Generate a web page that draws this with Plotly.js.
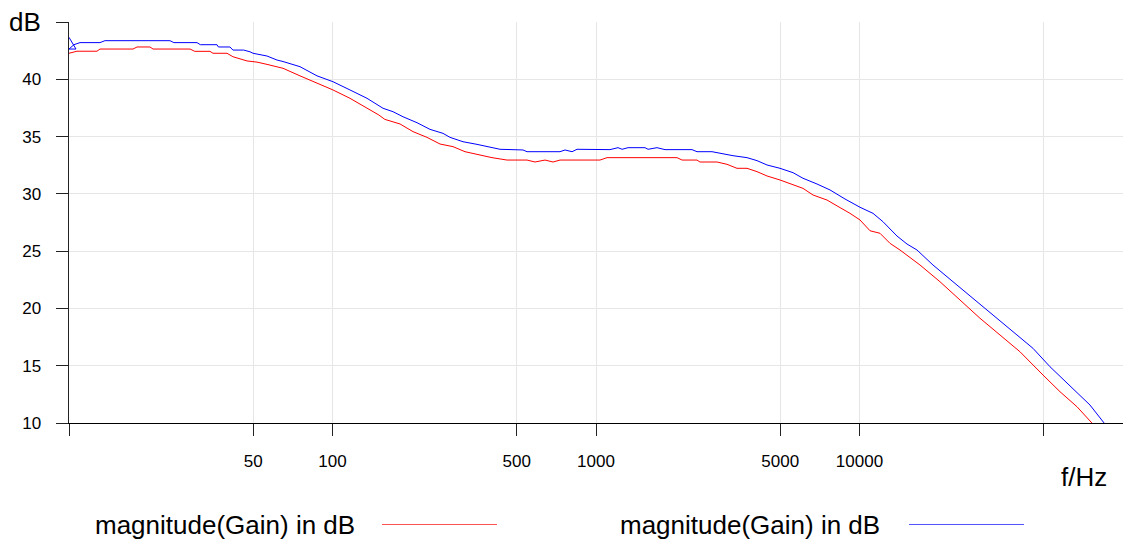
<!DOCTYPE html>
<html>
<head>
<meta charset="utf-8">
<script src="https://cdn.plot.ly/plotly-3.0.1.min.js"></script>
<style>html,body{margin:0;padding:0;background:#fff;}#chart{width:1125px;height:540px;}</style>
</head>
<body>
<div id="chart"></div>
<script>
// Frequencies (Hz) and magnitudes (dB)
const redFreq = [10, 10.72, 12.77, 13.11, 17.5, 18.12, 20.29, 20.84, 28.8, 30.0, 34.28, 35.2, 39.78, 41.9, 47.37, 51.7, 56.43, 61.57, 64.89, 75.27, 87.34, 100.4, 116.5, 135.2, 150, 158, 180.4, 202.1, 228.4, 255.9, 286.7, 318.3, 363, 403, 459.5, 547.3, 586.8, 640.5, 686.8, 730.2, 1035.6, 1101, 2030, 2121, 2417, 2481, 2880, 3142, 3428, 3742, 4083, 4457, 4992, 5593, 6104, 6662, 7529, 8436, 9204, 10044, 10961, 11960, 13056, 14245, 16967, 20205, 24064, 28665, 34136, 40645, 49701, 57674, 66892, 76923];
const redGain = [42.27, 42.45, 42.45, 42.64, 42.64, 42.82, 42.82, 42.64, 42.64, 42.44, 42.44, 42.27, 42.27, 41.97, 41.6, 41.5, 41.3, 41.1, 40.96, 40.3, 39.65, 39.07, 38.34, 37.5, 36.88, 36.5, 36.1, 35.43, 34.93, 34.35, 34.12, 33.68, 33.39, 33.16, 32.95, 32.95, 32.78, 32.95, 32.78, 32.95, 32.95, 33.16, 33.16, 32.95, 32.95, 32.78, 32.78, 32.58, 32.23, 32.23, 31.94, 31.56, 31.21, 30.77, 30.48, 29.9, 29.46, 28.8, 28.3, 27.72, 26.78, 26.56, 25.68, 25.1, 23.79, 22.33, 20.74, 19.14, 17.68, 16.22, 14.19, 12.73, 11.42, 9.9];

const blueFreq = [10, 10.63, 10, 10.44, 11.01, 13.11, 13.69, 24.17, 25.0, 30.61, 31.5, 36.45, 36.9, 40.83, 41.9, 46.0, 48.63, 49.92, 56.43, 61.57, 64.89, 75.27, 87.34, 100.4, 116.5, 135.2, 155.5, 169.7, 185.2, 196.8, 209.3, 234.4, 262.7, 279.3, 312.8, 353.6, 396, 432.3, 528.5, 547.3, 730.2, 762.8, 811, 847.2, 1130, 1212, 1256, 1323, 1535, 1576, 1704, 1828, 2314, 2417, 2756, 2956, 3311, 3742, 4083, 4457, 4992, 5593, 6104, 6899, 7729, 8811, 10044, 11252, 12277, 13876, 15148, 16529, 19004, 22636, 26954, 32111, 38234, 45530, 52850, 64593, 74929, 85432];
const blueGain = [43.66, 42.64, 42.64, 43.02, 43.2, 43.2, 43.37, 43.37, 43.2, 43.2, 43.02, 43.02, 42.82, 42.82, 42.55, 42.55, 42.4, 42.27, 42.03, 41.68, 41.55, 41.1, 40.3, 39.79, 39.07, 38.34, 37.47, 37.17, 36.73, 36.5, 36.21, 35.63, 35.28, 34.93, 34.55, 34.32, 34.06, 33.89, 33.83, 33.68, 33.68, 33.83, 33.68, 33.89, 33.86, 34.03, 33.89, 34.03, 34.03, 33.89, 34.03, 33.86, 33.86, 33.68, 33.68, 33.53, 33.33, 33.16, 32.9, 32.52, 32.23, 31.85, 31.36, 30.86, 30.34, 29.55, 28.83, 28.3, 27.57, 26.32, 25.62, 25.1, 23.79, 22.33, 20.88, 19.43, 17.97, 16.52, 14.91, 13.03, 11.57, 9.9];

const xTickVals = [10, 50, 100, 500, 1000, 5000, 10000, 50000];
const xTickText = ['', '50', '100', '500', '1000', '5000', '10000', ''];
const yTickVals = [10, 15, 20, 25, 30, 35, 40, 45];
const yTickText = ['10', '15', '20', '25', '30', '35', '40', ''];
const seriesName = 'magnitude(Gain) in dB';

const FONT = 'Liberation Sans, Arial, sans-serif';

const traces = [
  {x: redFreq, y: redGain, type: 'scatter', mode: 'lines', name: seriesName,
   line: {color: '#ff0000', width: 1}, hoverinfo: 'skip'},
  {x: blueFreq, y: blueGain, type: 'scatter', mode: 'lines', name: seriesName,
   line: {color: '#0000ff', width: 1}, hoverinfo: 'skip'}
];

const layout = {
  width: 1125, height: 540,
  margin: {l: 69, r: 2, t: 22, b: 117},
  paper_bgcolor: '#ffffff', plot_bgcolor: '#ffffff',
  showlegend: false,
  font: {family: FONT, color: '#000', size: 17},
  xaxis: {
    type: 'log', range: [1, 5],
    tickmode: 'array', tickvals: xTickVals, ticktext: xTickText,
    ticks: 'outside', ticklen: 12, tickcolor: '#222', tickwidth: 1,
    showgrid: true, gridcolor: '#e6e6e6', gridwidth: 1,
    showline: true, linecolor: '#000', linewidth: 1,
    zeroline: false, ticklabelstandoff: 11,
    tickfont: {family: FONT, size: 17, color: '#000'}
  },
  yaxis: {
    range: [10, 45], tickmode: 'array', tickvals: yTickVals, ticktext: yTickText,
    ticks: 'outside', ticklen: 12, tickcolor: '#222', tickwidth: 1,
    showgrid: true, gridcolor: '#e6e6e6', gridwidth: 1,
    showline: true, linecolor: '#222', linewidth: 1.5,
    zeroline: false, ticklabelstandoff: 11,
    tickfont: {family: FONT, size: 17, color: '#000'}
  },
  annotations: [
    {text: 'dB', xref: 'paper', yref: 'paper', x: -0.0246, y: 1, xanchor: 'right', yanchor: 'middle',
     showarrow: false, font: {family: FONT, size: 26, color: '#000'}},
    {text: 'f/Hz', xref: 'paper', yref: 'paper', x: 0.9868, y: -0.1347, xanchor: 'right', yanchor: 'middle',
     showarrow: false, font: {family: FONT, size: 26, color: '#000'}},
    {text: seriesName, xref: 'paper', yref: 'paper', x: 0.0228, y: -0.2544, xanchor: 'left', yanchor: 'middle',
     showarrow: false, font: {family: FONT, size: 26, color: '#000'}},
    {text: seriesName, xref: 'paper', yref: 'paper', x: 0.5209, y: -0.2544, xanchor: 'left', yanchor: 'middle',
     showarrow: false, font: {family: FONT, size: 26, color: '#000'}}
  ],
  shapes: [
    {type: 'line', xref: 'paper', yref: 'paper', x0: 0.297, x1: 0.4061, y0: -0.2531, y1: -0.2531,
     line: {color: '#ff5050', width: 1}},
    {type: 'line', xref: 'paper', yref: 'paper', x0: 0.797, x1: 0.9061, y0: -0.2531, y1: -0.2531,
     line: {color: '#5050ff', width: 1}}
  ]
};

Plotly.newPlot('chart', traces, layout, {displayModeBar: false, staticPlot: true});
</script>
</body>
</html>
